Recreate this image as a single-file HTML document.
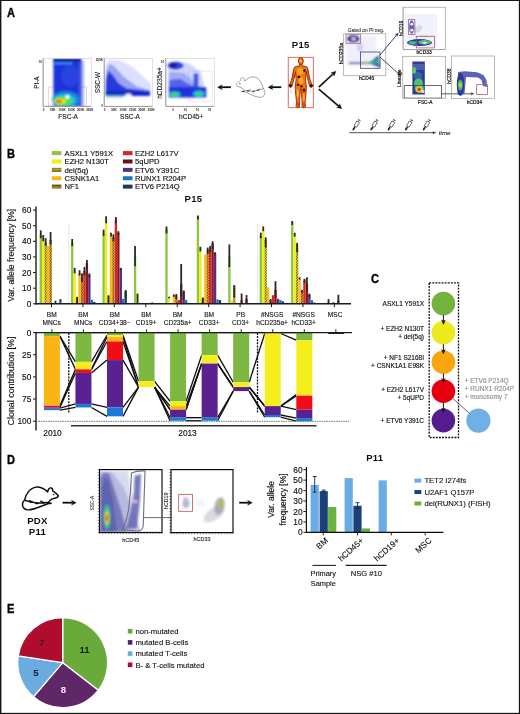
<!DOCTYPE html>
<html lang="en">
<head>
<meta charset="utf-8">
<title>Figure: P15 and P11 clonal analysis</title>
<style>
html,body{margin:0;padding:0;background:#fff;}
body{width:520px;height:714px;overflow:hidden;}
svg{display:block;font-family:"Liberation Sans",sans-serif;}
</style>
</head>
<body>
<svg width="520" height="714" viewBox="0 0 520 714">
<defs>
<filter id="b08" x="-20%" y="-20%" width="140%" height="140%"><feGaussianBlur stdDeviation="0.8"/></filter>
<filter id="b05" x="-20%" y="-20%" width="140%" height="140%"><feGaussianBlur stdDeviation="0.5"/></filter>
<filter id="b12" x="-20%" y="-20%" width="140%" height="140%"><feGaussianBlur stdDeviation="1.2"/></filter>
<filter id="soft" x="0" y="0" width="520" height="714" filterUnits="userSpaceOnUse"><feGaussianBlur stdDeviation="0.4"/></filter>
<pattern id="hy" width="1.3" height="1.3" patternUnits="userSpaceOnUse" patternTransform="rotate(35)"><rect width="1.3" height="1.3" fill="#ece31c"/><rect y="0.8" width="1.3" height="0.5" fill="#3a3408"/></pattern>
<pattern id="ho" width="1.3" height="1.3" patternUnits="userSpaceOnUse" patternTransform="rotate(35)"><rect width="1.3" height="1.3" fill="#f6a81a"/><rect y="0.8" width="1.3" height="0.5" fill="#3a2408"/></pattern>
<pattern id="hyl" width="2.4" height="1.2" patternUnits="userSpaceOnUse"><rect width="2.4" height="1.2" fill="#a8a428"/><rect y="0.6" width="2.4" height="0.6" fill="#4a4a16"/></pattern>
<pattern id="hol" width="2.4" height="1.2" patternUnits="userSpaceOnUse"><rect width="2.4" height="1.2" fill="#9c8c24"/><rect y="0.6" width="2.4" height="0.6" fill="#46400f"/></pattern>
<clipPath id="fc1"><rect x="43.1" y="58.4" width="48.1" height="48"/></clipPath>
<clipPath id="fc2"><rect x="104.2" y="58.4" width="48.3" height="48"/></clipPath>
<clipPath id="fc3"><rect x="165.8" y="58.4" width="48.4" height="48"/></clipPath>
<clipPath id="fc4"><rect x="343.7" y="33.8" width="42.1" height="41.9"/></clipPath>
<clipPath id="fc5"><rect x="403.1" y="7.2" width="42.3" height="42.4"/></clipPath>
<clipPath id="fc6"><rect x="402.8" y="56.3" width="42.6" height="42.1"/></clipPath>
<clipPath id="fc7"><rect x="451.5" y="56" width="43" height="42.3"/></clipPath>
<clipPath id="fc8"><rect x="99.5" y="469.6" width="62.5" height="62.9"/></clipPath>
<clipPath id="fc9"><rect x="171" y="469.6" width="62" height="63"/></clipPath>
</defs>
<rect x="0" y="0" width="520" height="714" fill="#fff"/>
<g id="fig" filter="url(#soft)">
<text transform="translate(7 16.9) scale(0.9 1)" font-size="12.3" font-weight="bold" fill="#000" stroke="#000" stroke-width="0.35">A</text>
<rect x="48.2" y="87" width="38.3" height="19" fill="none" stroke="#dcaad8" stroke-width="0.6" />
<g clip-path="url(#fc1)"><g filter="url(#b08)">
<rect x="53.4" y="58.4" width="27.8" height="48" fill="#1c30da" />
<rect x="78" y="61" width="6" height="45" fill="#5060e8" opacity="0.5"/>
<rect x="53.4" y="58.4" width="27.8" height="3.6" fill="#1220a8" />
<rect x="54.5" y="62.7" width="18" height="1.1" fill="#48d0f8" />
<ellipse cx="70" cy="76" rx="9" ry="11" fill="#3a5cea" opacity="0.45"/>
<ellipse cx="66" cy="99.5" rx="14" ry="8.5" fill="#1a8ae8" opacity="0.9"/>
<ellipse cx="64.5" cy="100.5" rx="11.5" ry="6.2" fill="#20ccc8" opacity="0.95"/>
<ellipse cx="62.5" cy="101" rx="9" ry="4.6" fill="#5adc3c" opacity="1"/>
<ellipse cx="60.2" cy="101.2" rx="5.6" ry="2.5" fill="#f6e814" opacity="1"/>
<ellipse cx="59" cy="101.3" rx="3.4" ry="1.2" fill="#ea2216" opacity="1"/>
<ellipse cx="67.4" cy="97.1" rx="2.3" ry="2" fill="#ffffff" opacity="0.95"/>
</g></g>
<rect x="43.1" y="58.4" width="48.1" height="48" fill="none" stroke="#c4c4c4" stroke-width="0.5" />
<path d="M43.1 58.4L43.1 106.4L91.2 106.4" fill="none" stroke="#777" stroke-width="0.7" />
<text x="39" y="82.6" font-size="6.3" text-anchor="middle" fill="#222" transform="rotate(-90 39 82.6)" stroke="#222" stroke-width="0.15" >PI-A</text>
<text x="68.1" y="118.9" font-size="6.6" text-anchor="middle" fill="#222" stroke="#222" stroke-width="0.15" >FSC-A</text>
<text x="43.5" y="111.3" font-size="3" text-anchor="middle" fill="#222" font-weight="bold" >0</text>
<text x="52.75" y="111.3" font-size="3" text-anchor="middle" fill="#222" font-weight="bold" >50K</text>
<text x="62" y="111.3" font-size="3" text-anchor="middle" fill="#222" font-weight="bold" >100K</text>
<text x="71.25" y="111.3" font-size="3" text-anchor="middle" fill="#222" font-weight="bold" >150K</text>
<text x="80.5" y="111.3" font-size="3" text-anchor="middle" fill="#222" font-weight="bold" >200K</text>
<text x="89.75" y="111.3" font-size="3" text-anchor="middle" fill="#222" font-weight="bold" >250K</text>
<text x="41.8" y="62.8" font-size="3" text-anchor="end" fill="#222" font-weight="bold" >10</text>
<g clip-path="url(#fc2)"><g filter="url(#b08)">
<path d="M105.5 96 L105.5 64 L109 59.5 L120 60 L134 68 L151 84 L151 96Z" fill="#98a2f6" opacity="0.33"/>
<path d="M105.8 96 L106 72 L109 64 L114 66 L124 77 L136 86 L150 90.5 L150 96Z" fill="#5868ee" opacity="0.5"/>
<path d="M105.8 96 L106 80 L108.5 71 L112.5 75 L118 83 L126 88.5 L150 91.5 L150 96Z" fill="#1e30d8" opacity="0.92"/>
<rect x="105.8" y="91" width="44" height="4.6" fill="#1626cc" />
<rect x="106" y="95.2" width="18" height="1.4" fill="#30c0d0" opacity="0.95"/>
<rect x="106" y="96.7" width="17" height="0.9" fill="#a8b8b0" opacity="0.8"/>
<ellipse cx="128.3" cy="95.3" rx="3.2" ry="1.7" fill="#ffffff" opacity="0.95"/>
</g></g>
<rect x="104.2" y="58.4" width="48.3" height="48" fill="none" stroke="#c4c4c4" stroke-width="0.5" />
<path d="M104.2 58.4L104.2 106.4L152.5 106.4" fill="none" stroke="#777" stroke-width="0.7" />
<text x="100.2" y="82.5" font-size="6.4" text-anchor="middle" fill="#222" transform="rotate(-90 100.2 82.5)" stroke="#222" stroke-width="0.15" >SSC-W</text>
<text x="130" y="118.9" font-size="6.5" text-anchor="middle" fill="#222" stroke="#222" stroke-width="0.15" >SSC-A</text>
<text x="104.6" y="111.3" font-size="3" text-anchor="middle" fill="#222" font-weight="bold" >0</text>
<text x="113.9" y="111.3" font-size="3" text-anchor="middle" fill="#222" font-weight="bold" >50K</text>
<text x="123.2" y="111.3" font-size="3" text-anchor="middle" fill="#222" font-weight="bold" >100K</text>
<text x="132.5" y="111.3" font-size="3" text-anchor="middle" fill="#222" font-weight="bold" >150K</text>
<text x="141.8" y="111.3" font-size="3" text-anchor="middle" fill="#222" font-weight="bold" >200K</text>
<text x="151.1" y="111.3" font-size="3" text-anchor="middle" fill="#222" font-weight="bold" >250K</text>
<text x="102.8" y="60.8" font-size="3" text-anchor="end" fill="#222" font-weight="bold" >250K</text>
<text x="102.8" y="107.3" font-size="3" text-anchor="end" fill="#222" font-weight="bold" >0</text>
<rect x="188.6" y="71" width="23.6" height="30.2" fill="none" stroke="#f0d4ec" stroke-width="0.6" />
<g clip-path="url(#fc3)"><g filter="url(#b08)">
<path d="M168 98 L168 62 L188 63 L201 72 L207 98Z" fill="#8c98f4" opacity="0.42"/>
<path d="M169 98 L169.5 72 L184 73 L192 80 L204 98Z" fill="#5a6af0" opacity="0.4"/>
<path d="M169 92 L169.5 80 L180 79 L190 85 L205 88 L205 92Z" fill="#3044e0" opacity="0.7"/>
<ellipse cx="175.5" cy="65.6" rx="8" ry="3.8" fill="#2a3cdc" opacity="0.95"/>
<ellipse cx="173.3" cy="65.4" rx="3.6" ry="2.3" fill="#141e9c" opacity="1"/>
<rect x="169" y="87.2" width="37.2" height="10" fill="#1c30da" opacity="0.97"/>
<rect x="193.8" y="73.5" width="4.4" height="16" fill="#3042e0" opacity="0.9"/>
<ellipse cx="174.7" cy="94.3" rx="5.8" ry="3.1" fill="#1fb7e0" opacity="1"/>
<ellipse cx="174.5" cy="94.5" rx="3.5" ry="1.9" fill="#4cd648" opacity="1"/>
<ellipse cx="198.8" cy="93.8" rx="6" ry="3.2" fill="#1fb7e0" opacity="1"/>
<ellipse cx="199" cy="93.9" rx="3.6" ry="1.9" fill="#3cd488" opacity="1"/>
</g></g>
<rect x="165.8" y="58.4" width="48.4" height="48" fill="none" stroke="#c4c4c4" stroke-width="0.5" />
<path d="M165.8 58.4L165.8 106.4L214.2 106.4" fill="none" stroke="#777" stroke-width="0.7" />
<text x="162" y="83" font-size="6.6" text-anchor="middle" fill="#222" transform="rotate(-90 162 83)" stroke="#222" stroke-width="0.15" >hCD235a+</text>
<text x="191.2" y="118.9" font-size="6.6" text-anchor="middle" fill="#222" stroke="#222" stroke-width="0.15" >hCD45+</text>
<text x="173" y="110.8" font-size="3" text-anchor="middle" fill="#222" font-weight="bold" >0</text>
<text x="185.2" y="110.8" font-size="3" text-anchor="middle" fill="#222" font-weight="bold" >10</text>
<text x="197.4" y="110.8" font-size="3" text-anchor="middle" fill="#222" font-weight="bold" >10</text>
<text x="209.6" y="110.8" font-size="3" text-anchor="middle" fill="#222" font-weight="bold" >10</text>
<text x="164.2" y="63" font-size="3" text-anchor="end" fill="#222" font-weight="bold" >10</text>
<line x1="230.9" y1="87.2" x2="221.24" y2="87.2" stroke="#111" stroke-width="1.8" />
<path d="M217.5 87.2L222.3 84.7L221.24 87.2L222.3 89.7Z" fill="#111" stroke="#111" stroke-width="0.3" stroke-linejoin="round"/>
<line x1="281.3" y1="87.2" x2="271.74" y2="87.2" stroke="#111" stroke-width="1.8" />
<path d="M268 87.2L272.8 84.7L271.74 87.2L272.8 89.7Z" fill="#111" stroke="#111" stroke-width="0.3" stroke-linejoin="round"/>
<g transform="translate(265.4 76.5) scale(-0.08 0.09) translate(-72.0 -70.0)" fill="none" stroke="#9a9a9a" stroke-width="10.74" stroke-linejoin="round" stroke-linecap="round">
<path d="M100 203 C70 225 65 285 120 300 C170 312 250 270 335 238" />
<path d="M100 205 C108 150 150 82 215 74 C262 70 300 95 330 122 C332 100 345 80 362 82 C376 84 380 98 380 112 C400 125 425 145 436 160 C436 172 420 180 398 186 C380 190 362 198 350 208 L340 226 C300 230 250 236 215 232 C170 225 130 215 100 205Z" fill="#fff"/>
<g fill="#555" stroke="#555" stroke-width="6.44"><ellipse cx="168" cy="221" rx="9" ry="5"/><ellipse cx="220" cy="236" rx="15" ry="6"/><ellipse cx="292" cy="229" rx="11" ry="5"/><ellipse cx="350" cy="236" rx="17" ry="6"/><circle cx="389" cy="150" r="3"/></g>
<path d="M150 208 L162 226 M262 214 L285 232" stroke="#555"/>
</g>
<text x="300.7" y="48.3" font-size="9.5" text-anchor="middle" fill="#111" font-weight="bold" letter-spacing="0.3" >P15</text>
<rect x="288.3" y="57.4" width="25.1" height="50.2" fill="#fff" stroke="#e07a6e" stroke-width="1.1" />
<g transform="translate(300.8 57.6) scale(0.5)">
<g fill="#f2760e" stroke="#9a2c08" stroke-width="1.9" stroke-linejoin="round">
<polygon points="-2.2,12.5 -2.4,16.5 -8,17.5 -12.5,19 -14.2,23 -15.5,30 -17,38 -19,46 -21.5,52 -23,56 -21.5,59.5 -18.5,59 -17,55 -15.5,49 -13.5,42 -11.8,34 -10.8,28 -10.3,34 -9.3,43 -10,50 -11.2,57 -11,64 -10.2,74 -9,84 -8.6,92 -9.5,97.5 -8,99.5 -3,99.5 -2.6,96 -2.4,86 -1.6,74 -0.8,62.5 0,61 0.8,62.5 1.6,74 2.4,86 2.6,96 3,99.5 8,99.5 9.5,97.5 8.6,92 9,84 10.2,74 11,64 11.2,57 10,50 9.3,43 10.3,34 10.8,28 11.8,34 13.5,42 15.5,49 17,55 18.5,59 21.5,59.5 23,56 21.5,52 19,46 17,38 15.5,30 14.2,23 12.5,19 8,17.5 2.4,16.5 2.2,12.5"/>
<ellipse cx="0" cy="6.8" rx="5" ry="6.6"/>
</g>
<g fill="#fcb232" opacity="0.9"><ellipse cx="-1.5" cy="28" rx="6" ry="6.5"/><ellipse cx="0.5" cy="46" rx="4.5" ry="7"/><ellipse cx="-6" cy="72" rx="2.2" ry="9"/><ellipse cx="6" cy="80" rx="2" ry="8"/><ellipse cx="0" cy="6.5" rx="2.6" ry="3.6"/></g>
<g fill="#d83a0a" opacity="0.75"><ellipse cx="-15" cy="36" rx="1.6" ry="9" transform="rotate(8 -15 36)"/><ellipse cx="15" cy="36" rx="1.6" ry="9" transform="rotate(-8 15 36)"/><ellipse cx="-6" cy="94" rx="2.6" ry="4.5"/><ellipse cx="6" cy="94" rx="2.6" ry="4.5"/><ellipse cx="6.5" cy="66" rx="3" ry="5"/></g>
<g fill="#36140a"><ellipse cx="7.3" cy="26" rx="2.7" ry="2.7"/><ellipse cx="-3.7" cy="39" rx="3" ry="2.5"/><ellipse cx="-5.5" cy="54.5" rx="3" ry="2.4"/><ellipse cx="1.2" cy="57.5" rx="2.6" ry="2.4"/><ellipse cx="6.4" cy="64.6" rx="2.8" ry="3"/><ellipse cx="-21" cy="56" rx="3.3" ry="3.3"/><ellipse cx="21" cy="56" rx="3.3" ry="3.3"/></g>
<g fill="#bfe8ea" opacity="0.75"><ellipse cx="-19.5" cy="68" rx="1.6" ry="5" transform="rotate(-15 -19.5 68)"/><ellipse cx="19.5" cy="68" rx="1.6" ry="5" transform="rotate(15 19.5 68)"/></g>
</g>
<line x1="318.8" y1="87.1" x2="333.25" y2="73.74" stroke="#111" stroke-width="1.6" />
<path d="M336 71.2L334.1 76.22L333.25 73.74L330.85 72.7Z" fill="#111" stroke="#111" stroke-width="0.3" stroke-linejoin="round"/>
<line x1="318.8" y1="89.2" x2="338.94" y2="106.28" stroke="#111" stroke-width="1.6" />
<path d="M341.8 108.7L336.59 107.43L338.94 106.28L339.69 103.77Z" fill="#111" stroke="#111" stroke-width="0.3" stroke-linejoin="round"/>
<g clip-path="url(#fc4)"><g filter="url(#b08)">
<rect x="346" y="36" width="30" height="30" fill="#c9cdf3" opacity="0.3"/>
<ellipse cx="353.3" cy="38.8" rx="6.3" ry="3.7" fill="#34349a" opacity="1"/>
<ellipse cx="353.6" cy="38.8" rx="2.4" ry="1.3" fill="#f4f0fc" opacity="1"/>
<ellipse cx="360" cy="47" rx="3" ry="5" fill="#b0b0dc" opacity="0.5"/>
<rect x="349" y="62.4" width="30" height="1.4" fill="#2c3698" />
<path d="M370 62.5 L378.5 55 L380 67.5 L372 64.5Z" fill="#2e3ca8" />
<ellipse cx="374" cy="62.2" rx="4.5" ry="1.6" fill="#30b088" opacity="1"/>
<ellipse cx="377" cy="61.5" rx="1.6" ry="3" fill="#30b088" opacity="1"/>
<ellipse cx="366" cy="62.5" rx="3" ry="0.9" fill="#a8c048" opacity="1"/>
</g><g>
<rect x="346" y="34.3" width="14.5" height="9" fill="none" stroke="#b46a70" stroke-width="0.8" />
<rect x="360.5" y="52" width="19.5" height="16.3" fill="none" stroke="#3a4668" stroke-width="0.8" />
</g></g>
<rect x="343.7" y="33.8" width="42.1" height="41.9" fill="none" stroke="#9c9c9c" stroke-width="0.7" />
<text x="366" y="32.2" font-size="4.8" text-anchor="middle" fill="#333" stroke="#333" stroke-width="0.1" >Gated on PI neg.</text>
<text x="342.7" y="53.6" font-size="5" text-anchor="middle" fill="#111" transform="rotate(-90 342.7 53.6)" stroke="#111" stroke-width="0.2" >hCD235a</text>
<text x="366.5" y="80.3" font-size="4.9" text-anchor="middle" fill="#111" stroke="#111" stroke-width="0.2" >hCD45</text>
<line x1="380" y1="55" x2="396.7" y2="34.92" stroke="#2b3057" stroke-width="0.9" />
<path d="M398.3 33L397.33 36.36L396.7 34.92L395.18 34.56Z" fill="#2b3057" stroke="#2b3057" stroke-width="0.3" stroke-linejoin="round"/>
<line x1="380" y1="57" x2="398.65" y2="73.83" stroke="#2b3057" stroke-width="0.9" />
<path d="M400.5 75.5L397.19 74.4L398.65 73.83L399.06 72.32Z" fill="#2b3057" stroke="#2b3057" stroke-width="0.3" stroke-linejoin="round"/>
<g clip-path="url(#fc5)"><g filter="url(#b05)">
<rect x="405" y="14" width="32" height="33" fill="#c9cdf3" opacity="0.25"/>
<ellipse cx="411.7" cy="27" rx="2.6" ry="6.8" fill="#5a58b4" opacity="0.95"/>
<ellipse cx="411.8" cy="24.2" rx="1.5" ry="1.4" fill="#f0e8fa" opacity="1"/>
<ellipse cx="411.8" cy="30.2" rx="1.5" ry="1.4" fill="#f0e8fa" opacity="1"/>
<ellipse cx="418" cy="29" rx="5" ry="3" fill="#b0b0d8" opacity="0.4" transform="rotate(-35 418 29)"/>
<ellipse cx="419.5" cy="42.6" rx="12.5" ry="3.5" fill="#2c3aa8" opacity="1"/>
<ellipse cx="412.5" cy="42.8" rx="4" ry="1.9" fill="#48b878" opacity="1"/>
<ellipse cx="424.5" cy="42.3" rx="6.5" ry="2.2" fill="#4cc080" opacity="1"/>
<ellipse cx="424.6" cy="42.8" rx="2.4" ry="1.1" fill="#f6d8ec" opacity="1"/>
<ellipse cx="424" cy="36" rx="4" ry="1.5" fill="#e6d490" opacity="0.5"/>
</g><g>
<rect x="408.6" y="19.6" width="6.3" height="15" fill="none" stroke="#a85a70" stroke-width="0.8" />
<rect x="416.3" y="36.3" width="18.2" height="11.6" fill="none" stroke="#a85a70" stroke-width="0.8" />
</g></g>
<rect x="403.1" y="7.2" width="42.3" height="42.4" fill="none" stroke="#9c9c9c" stroke-width="0.7" />
<path d="M403.1 7.2L403.1 49.6L445.4 49.6" fill="none" stroke="#999" stroke-width="0.6" />
<text x="403" y="28.3" font-size="4.9" text-anchor="middle" fill="#111" transform="rotate(-90 403 28.3)" stroke="#111" stroke-width="0.2" >hCD19</text>
<text x="424" y="54.2" font-size="4.9" text-anchor="middle" fill="#111" stroke="#111" stroke-width="0.2" >hCD33</text>
<g clip-path="url(#fc6)"><g filter="url(#b05)">
<rect x="412.4" y="61.5" width="12.4" height="33" fill="#2c3c98" />
<rect x="413" y="64" width="11" height="6" fill="#5a7ab8" opacity="0.6"/>
<ellipse cx="414.2" cy="70.5" rx="2" ry="3.6" fill="#68c070" opacity="1"/>
<ellipse cx="418" cy="76" rx="4" ry="4" fill="#4a70b0" opacity="0.7"/>
<ellipse cx="418.5" cy="83" rx="4.5" ry="4.5" fill="#4cc078" opacity="1"/>
<ellipse cx="419.3" cy="88.5" rx="4.6" ry="4.6" fill="#5cc860" opacity="1"/>
<ellipse cx="419.3" cy="89.3" rx="3" ry="3" fill="#f0d828" opacity="1"/>
<ellipse cx="419.2" cy="89.3" rx="1.7" ry="1.9" fill="#e8321c" opacity="1"/>
<ellipse cx="422.8" cy="91.6" rx="1.7" ry="1.5" fill="#f8d8ee" opacity="1"/>
</g><g>
<rect x="404.2" y="85.6" width="37.4" height="12.5" fill="none" stroke="#444" stroke-width="0.8" />
</g></g>
<rect x="402.8" y="56.3" width="42.6" height="42.1" fill="none" stroke="#9c9c9c" stroke-width="0.7" />
<text x="400.7" y="78.3" font-size="4.9" text-anchor="middle" fill="#111" transform="rotate(-90 400.7 78.3)" stroke="#111" stroke-width="0.2" >Lineage</text>
<text x="425.2" y="103.9" font-size="4.8" text-anchor="middle" fill="#111" stroke="#111" stroke-width="0.2" >FSC-A</text>
<line x1="441.6" y1="93.8" x2="471.66" y2="93.8" stroke="#333" stroke-width="0.8" />
<path d="M474 93.8L471 95.1L471.66 93.8L471 92.5Z" fill="#333" stroke="#333" stroke-width="0.3" stroke-linejoin="round"/>
<g clip-path="url(#fc7)"><g filter="url(#b05)">
<path d="M458 72 L465 71.3 L477 72.3 L483.5 75 L486.5 80 L487 87 L483 86 L481.5 80 L478 77.5 L466 77 L464.5 94 L457.5 95Z" fill="#4a52ac" opacity="0.9"/>
<ellipse cx="460.5" cy="84.5" rx="3.7" ry="11.5" fill="#2a3896" opacity="1"/>
<ellipse cx="460.3" cy="85" rx="2.5" ry="5.5" fill="#40b088" opacity="1"/>
<ellipse cx="460.3" cy="85" rx="1.5" ry="2.8" fill="#c8cc38" opacity="1"/>
</g><g>
<rect x="476.7" y="84.7" width="10.8" height="9.8" fill="none" stroke="#a85a70" stroke-width="0.8" />
</g></g>
<rect x="451.5" y="56" width="43" height="42.3" fill="none" stroke="#9c9c9c" stroke-width="0.7" />
<text x="451.5" y="76.2" font-size="4.9" text-anchor="middle" fill="#111" transform="rotate(-90 451.5 76.2)" stroke="#111" stroke-width="0.2" >hCD38</text>
<text x="474.4" y="103.7" font-size="4.9" text-anchor="middle" fill="#111" stroke="#111" stroke-width="0.2" >hCD34</text>
<line x1="349.2" y1="132.7" x2="433.5" y2="132.7" stroke="#444" stroke-width="0.9" />
<path d="M436.3 132.7 L432.8 131.3 L432.8 134.1Z" fill="#333" />
<text x="438.8" y="134.8" font-size="6.2" text-anchor="start" fill="#222" font-style="italic" stroke="#222" stroke-width="0.12" >time</text>
<g transform="translate(352.9 130.2) rotate(-58)" stroke="#3a3a3a" fill="#fff" stroke-width="0.7">
<path d="M0 0 L4.4 0" stroke-width="1.3" stroke="#222"/>
<path d="M-0.4 0 L2.4 -1.3 L2.4 1.3Z" fill="#222" stroke="none"/>
<rect x="4.4" y="-1.5" width="5.6" height="3"/>
<line x1="10" y1="0" x2="12" y2="0"/>
<line x1="12" y1="-1.6" x2="12" y2="1.6"/>
</g>
<g transform="translate(370.8 130.2) rotate(-58)" stroke="#3a3a3a" fill="#fff" stroke-width="0.7">
<path d="M0 0 L4.4 0" stroke-width="1.3" stroke="#222"/>
<path d="M-0.4 0 L2.4 -1.3 L2.4 1.3Z" fill="#222" stroke="none"/>
<rect x="4.4" y="-1.5" width="5.6" height="3"/>
<line x1="10" y1="0" x2="12" y2="0"/>
<line x1="12" y1="-1.6" x2="12" y2="1.6"/>
</g>
<g transform="translate(388.1 130.2) rotate(-58)" stroke="#3a3a3a" fill="#fff" stroke-width="0.7">
<path d="M0 0 L4.4 0" stroke-width="1.3" stroke="#222"/>
<path d="M-0.4 0 L2.4 -1.3 L2.4 1.3Z" fill="#222" stroke="none"/>
<rect x="4.4" y="-1.5" width="5.6" height="3"/>
<line x1="10" y1="0" x2="12" y2="0"/>
<line x1="12" y1="-1.6" x2="12" y2="1.6"/>
</g>
<g transform="translate(405.4 130.2) rotate(-58)" stroke="#3a3a3a" fill="#fff" stroke-width="0.7">
<path d="M0 0 L4.4 0" stroke-width="1.3" stroke="#222"/>
<path d="M-0.4 0 L2.4 -1.3 L2.4 1.3Z" fill="#222" stroke="none"/>
<rect x="4.4" y="-1.5" width="5.6" height="3"/>
<line x1="10" y1="0" x2="12" y2="0"/>
<line x1="12" y1="-1.6" x2="12" y2="1.6"/>
</g>
<g transform="translate(423.2 130.2) rotate(-58)" stroke="#3a3a3a" fill="#fff" stroke-width="0.7">
<path d="M0 0 L4.4 0" stroke-width="1.3" stroke="#222"/>
<path d="M-0.4 0 L2.4 -1.3 L2.4 1.3Z" fill="#222" stroke="none"/>
<rect x="4.4" y="-1.5" width="5.6" height="3"/>
<line x1="10" y1="0" x2="12" y2="0"/>
<line x1="12" y1="-1.6" x2="12" y2="1.6"/>
</g>
<text transform="translate(6.9 157.7) scale(0.9 1)" font-size="12.3" font-weight="bold" fill="#000" stroke="#000" stroke-width="0.35">B</text>
<rect x="51.8" y="151.1" width="9.6" height="4" fill="#8cc63f" />
<text x="64.6" y="155.8" font-size="7.6" text-anchor="start" fill="#111" stroke="#111" stroke-width="0.15" >ASXL1 Y591X</text>
<rect x="51.8" y="159.48" width="9.6" height="4" fill="#f3ec19" />
<text x="64.6" y="164.18" font-size="7.6" text-anchor="start" fill="#111" stroke="#111" stroke-width="0.15" >EZH2 N130T</text>
<rect x="51.8" y="167.86" width="9.6" height="4" fill="url(#hyl)" />
<text x="64.6" y="172.56" font-size="7.6" text-anchor="start" fill="#111" stroke="#111" stroke-width="0.15" >del(5q)</text>
<rect x="51.8" y="176.24" width="9.6" height="4" fill="#fbb817" />
<text x="64.6" y="180.94" font-size="7.6" text-anchor="start" fill="#111" stroke="#111" stroke-width="0.15" >CSNK1A1</text>
<rect x="51.8" y="184.62" width="9.6" height="4" fill="url(#hol)" />
<text x="64.6" y="189.32" font-size="7.6" text-anchor="start" fill="#111" stroke="#111" stroke-width="0.15" >NF1</text>
<rect x="122.9" y="151.1" width="9.6" height="4" fill="#dc2024" />
<text x="135" y="155.8" font-size="7.6" text-anchor="start" fill="#111" stroke="#111" stroke-width="0.15" >EZH2 L617V</text>
<rect x="122.9" y="159.48" width="9.6" height="4" fill="#6a1012" />
<text x="135" y="164.18" font-size="7.6" text-anchor="start" fill="#111" stroke="#111" stroke-width="0.15" >5qUPD</text>
<rect x="122.9" y="167.86" width="9.6" height="4" fill="#5b2a8c" />
<text x="135" y="172.56" font-size="7.6" text-anchor="start" fill="#111" stroke="#111" stroke-width="0.15" >ETV6 Y391C</text>
<rect x="122.9" y="176.24" width="9.6" height="4" fill="#1c75bc" />
<text x="135" y="180.94" font-size="7.6" text-anchor="start" fill="#111" stroke="#111" stroke-width="0.15" >RUNX1 R204P</text>
<rect x="122.9" y="184.62" width="9.6" height="4" fill="#1b3b5f" />
<text x="135" y="189.32" font-size="7.6" text-anchor="start" fill="#111" stroke="#111" stroke-width="0.15" >ETV6 P214Q</text>
<text x="193.5" y="202.4" font-size="9.5" text-anchor="middle" fill="#111" font-weight="bold" letter-spacing="0.3" >P15</text>
<line x1="68.8" y1="224" x2="68.8" y2="303" stroke="#cfcfcf" stroke-width="0.5" />
<line x1="257.5" y1="224" x2="257.5" y2="303" stroke="#cfcfcf" stroke-width="0.5" />
<rect x="39.6" y="235.05" width="2.35" height="68.75" fill="#8cc63f" />
<line x1="40.77" y1="230.36" x2="40.77" y2="238.18" stroke="#2a2a2a" stroke-width="1.8" />
<rect x="42.05" y="238.18" width="2.35" height="65.62" fill="#f3ec19" />
<line x1="43.23" y1="235.05" x2="43.23" y2="241.3" stroke="#2a2a2a" stroke-width="1.8" />
<rect x="44.5" y="242.86" width="2.35" height="60.94" fill="url(#hy)" />
<line x1="45.67" y1="238.18" x2="45.67" y2="245.99" stroke="#2a2a2a" stroke-width="1.8" />
<rect x="46.95" y="245.99" width="2.35" height="57.81" fill="#fbb817" />
<rect x="49.4" y="239.74" width="2.35" height="64.06" fill="url(#ho)" />
<line x1="50.57" y1="231.93" x2="50.57" y2="244.43" stroke="#2a2a2a" stroke-width="1.8" />
<rect x="54.3" y="303.33" width="2.35" height="0.47" fill="#8a1518" />
<line x1="55.48" y1="300.68" x2="55.48" y2="303.8" stroke="#2a2a2a" stroke-width="1.8" />
<rect x="56.75" y="303.18" width="2.35" height="0.62" fill="#5b2a8c" />
<rect x="59.2" y="300.36" width="2.35" height="3.44" fill="#1c75bc" />
<line x1="60.38" y1="299.11" x2="60.38" y2="301.46" stroke="#2a2a2a" stroke-width="1.8" />
<rect x="61.65" y="303.18" width="2.35" height="0.62" fill="#1b3b5f" />
<rect x="71.03" y="242.86" width="2.35" height="60.94" fill="#8cc63f" />
<line x1="72.2" y1="238.96" x2="72.2" y2="245.99" stroke="#2a2a2a" stroke-width="1.8" />
<rect x="73.48" y="270.99" width="2.35" height="32.81" fill="#f3ec19" />
<line x1="74.66" y1="267.86" x2="74.66" y2="273.33" stroke="#2a2a2a" stroke-width="1.8" />
<rect x="75.93" y="297.55" width="2.35" height="6.25" fill="url(#hy)" />
<line x1="77.11" y1="296.77" x2="77.11" y2="303.8" stroke="#2a2a2a" stroke-width="1.8" />
<rect x="78.38" y="273.33" width="2.35" height="30.47" fill="#fbb817" />
<line x1="79.55" y1="270.21" x2="79.55" y2="275.68" stroke="#2a2a2a" stroke-width="1.8" />
<rect x="80.83" y="277.24" width="2.35" height="26.56" fill="url(#ho)" />
<line x1="82" y1="273.33" x2="82" y2="281.93" stroke="#2a2a2a" stroke-width="1.8" />
<rect x="83.28" y="270.99" width="2.35" height="32.81" fill="#dc2024" />
<line x1="84.45" y1="267.08" x2="84.45" y2="275.68" stroke="#2a2a2a" stroke-width="1.8" />
<rect x="85.73" y="263.18" width="2.35" height="40.62" fill="#8a1518" />
<line x1="86.91" y1="260.05" x2="86.91" y2="269.43" stroke="#2a2a2a" stroke-width="1.8" />
<rect x="88.18" y="274.89" width="2.35" height="28.91" fill="#5b2a8c" />
<line x1="89.36" y1="273.33" x2="89.36" y2="277.24" stroke="#2a2a2a" stroke-width="1.8" />
<rect x="90.63" y="299.74" width="2.35" height="4.06" fill="#1c75bc" />
<rect x="93.08" y="301.93" width="2.35" height="1.88" fill="#1b3b5f" />
<rect x="102.46" y="232.71" width="2.35" height="71.09" fill="#8cc63f" />
<line x1="103.63" y1="229.58" x2="103.63" y2="235.83" stroke="#2a2a2a" stroke-width="1.8" />
<rect x="104.91" y="219.43" width="2.35" height="84.38" fill="#f3ec19" />
<line x1="106.08" y1="216.3" x2="106.08" y2="223.33" stroke="#2a2a2a" stroke-width="1.8" />
<rect x="107.36" y="295.99" width="2.35" height="7.81" fill="url(#hy)" />
<line x1="108.53" y1="295.21" x2="108.53" y2="303.8" stroke="#2a2a2a" stroke-width="1.8" />
<rect x="109.81" y="235.05" width="2.35" height="68.75" fill="#fbb817" />
<line x1="110.98" y1="232.71" x2="110.98" y2="236.61" stroke="#2a2a2a" stroke-width="1.8" />
<rect x="112.26" y="237.39" width="2.35" height="66.41" fill="url(#ho)" />
<line x1="113.43" y1="234.27" x2="113.43" y2="241.3" stroke="#2a2a2a" stroke-width="1.8" />
<rect x="114.71" y="219.43" width="2.35" height="84.38" fill="#dc2024" />
<line x1="115.88" y1="217.08" x2="115.88" y2="223.33" stroke="#2a2a2a" stroke-width="1.8" />
<rect x="117.16" y="232.71" width="2.35" height="71.09" fill="#8a1518" />
<line x1="118.33" y1="231.14" x2="118.33" y2="235.05" stroke="#2a2a2a" stroke-width="1.8" />
<rect x="119.61" y="268.64" width="2.35" height="35.16" fill="#5b2a8c" />
<line x1="120.78" y1="267.86" x2="120.78" y2="270.21" stroke="#2a2a2a" stroke-width="1.8" />
<rect x="122.06" y="298.8" width="2.35" height="5" fill="#1c75bc" />
<rect x="124.51" y="291.3" width="2.35" height="12.5" fill="#1b3b5f" />
<line x1="125.68" y1="290.05" x2="125.68" y2="297.55" stroke="#2a2a2a" stroke-width="1.8" />
<rect x="133.89" y="256.93" width="2.35" height="46.88" fill="#8cc63f" />
<line x1="135.06" y1="245.99" x2="135.06" y2="266.3" stroke="#2a2a2a" stroke-width="1.8" />
<rect x="136.34" y="293.64" width="2.35" height="10.16" fill="#f3ec19" />
<line x1="137.51" y1="293.64" x2="137.51" y2="303.8" stroke="#2a2a2a" stroke-width="1.8" />
<rect x="148.59" y="303.33" width="2.35" height="0.47" fill="#8a1518" />
<rect x="151.04" y="302.86" width="2.35" height="0.94" fill="#5b2a8c" />
<line x1="152.22" y1="302.55" x2="152.22" y2="303.8" stroke="#2a2a2a" stroke-width="1.8" />
<rect x="165.32" y="228.8" width="2.35" height="75" fill="#8cc63f" />
<line x1="166.5" y1="226.46" x2="166.5" y2="233.49" stroke="#2a2a2a" stroke-width="1.8" />
<rect x="167.77" y="297.24" width="2.35" height="6.56" fill="#f3ec19" />
<line x1="168.94" y1="296.77" x2="168.94" y2="298.33" stroke="#2a2a2a" stroke-width="1.8" />
<rect x="172.67" y="295.21" width="2.35" height="8.59" fill="#fbb817" />
<line x1="173.84" y1="294.43" x2="173.84" y2="296.77" stroke="#2a2a2a" stroke-width="1.8" />
<rect x="175.12" y="295.68" width="2.35" height="8.12" fill="url(#ho)" />
<line x1="176.3" y1="293.96" x2="176.3" y2="299.11" stroke="#2a2a2a" stroke-width="1.8" />
<rect x="177.57" y="299.89" width="2.35" height="3.91" fill="#dc2024" />
<rect x="180.02" y="284.27" width="2.35" height="19.53" fill="#8a1518" />
<line x1="181.19" y1="263.96" x2="181.19" y2="295.99" stroke="#2a2a2a" stroke-width="1.8" />
<rect x="182.47" y="291.3" width="2.35" height="12.5" fill="#5b2a8c" />
<line x1="183.65" y1="290.52" x2="183.65" y2="299.89" stroke="#2a2a2a" stroke-width="1.8" />
<rect x="184.92" y="299.89" width="2.35" height="3.91" fill="#1c75bc" />
<rect x="187.37" y="302.86" width="2.35" height="0.94" fill="#1b3b5f" />
<rect x="196.75" y="216.3" width="2.35" height="87.5" fill="#8cc63f" />
<line x1="197.93" y1="215.52" x2="197.93" y2="219.43" stroke="#2a2a2a" stroke-width="1.8" />
<rect x="199.2" y="247.55" width="2.35" height="56.25" fill="#f3ec19" />
<line x1="200.38" y1="246.77" x2="200.38" y2="251.46" stroke="#2a2a2a" stroke-width="1.8" />
<rect x="201.65" y="297.86" width="2.35" height="5.94" fill="url(#hy)" />
<line x1="202.83" y1="297.55" x2="202.83" y2="303.8" stroke="#2a2a2a" stroke-width="1.8" />
<rect x="204.1" y="254.58" width="2.35" height="49.22" fill="#fbb817" />
<rect x="206.55" y="249.89" width="2.35" height="53.91" fill="url(#ho)" />
<line x1="207.73" y1="247.55" x2="207.73" y2="253.8" stroke="#2a2a2a" stroke-width="1.8" />
<rect x="209" y="249.11" width="2.35" height="54.69" fill="#dc2024" />
<line x1="210.18" y1="245.99" x2="210.18" y2="252.24" stroke="#2a2a2a" stroke-width="1.8" />
<rect x="211.45" y="243.64" width="2.35" height="60.16" fill="#8a1518" />
<line x1="212.62" y1="241.3" x2="212.62" y2="249.11" stroke="#2a2a2a" stroke-width="1.8" />
<rect x="213.9" y="253.02" width="2.35" height="50.78" fill="#5b2a8c" />
<line x1="215.08" y1="252.24" x2="215.08" y2="255.36" stroke="#2a2a2a" stroke-width="1.8" />
<rect x="216.35" y="299.43" width="2.35" height="4.38" fill="#1c75bc" />
<rect x="218.8" y="300.05" width="2.35" height="3.75" fill="#1b3b5f" />
<rect x="228.18" y="256.14" width="2.35" height="47.66" fill="#8cc63f" />
<line x1="229.35" y1="244.43" x2="229.35" y2="267.08" stroke="#2a2a2a" stroke-width="1.8" />
<rect x="230.63" y="300.05" width="2.35" height="3.75" fill="#f3ec19" />
<rect x="233.08" y="285.83" width="2.35" height="17.97" fill="url(#hy)" />
<line x1="234.25" y1="285.05" x2="234.25" y2="297.55" stroke="#2a2a2a" stroke-width="1.8" />
<rect x="240.43" y="300.05" width="2.35" height="3.75" fill="#dc2024" />
<line x1="241.6" y1="293.49" x2="241.6" y2="303.8" stroke="#2a2a2a" stroke-width="1.8" />
<rect x="245.33" y="299.11" width="2.35" height="4.69" fill="#5b2a8c" />
<line x1="246.5" y1="295.05" x2="246.5" y2="303.8" stroke="#2a2a2a" stroke-width="1.8" />
<rect x="259.61" y="235.83" width="2.35" height="67.97" fill="#8cc63f" />
<line x1="260.79" y1="232.71" x2="260.79" y2="238.18" stroke="#2a2a2a" stroke-width="1.8" />
<rect x="262.06" y="228.8" width="2.35" height="75" fill="#f3ec19" />
<line x1="263.24" y1="226.46" x2="263.24" y2="231.14" stroke="#2a2a2a" stroke-width="1.8" />
<rect x="264.51" y="239.74" width="2.35" height="64.06" fill="url(#hy)" />
<line x1="265.69" y1="237.39" x2="265.69" y2="247.55" stroke="#2a2a2a" stroke-width="1.8" />
<rect x="266.96" y="287.39" width="2.35" height="16.41" fill="#fbb817" />
<rect x="269.41" y="299.89" width="2.35" height="3.91" fill="url(#ho)" />
<line x1="270.59" y1="299.11" x2="270.59" y2="303.8" stroke="#2a2a2a" stroke-width="1.8" />
<rect x="271.86" y="295.21" width="2.35" height="8.59" fill="#dc2024" />
<rect x="274.31" y="289.74" width="2.35" height="14.06" fill="#8a1518" />
<line x1="275.49" y1="281.14" x2="275.49" y2="297.55" stroke="#2a2a2a" stroke-width="1.8" />
<rect x="276.76" y="298.8" width="2.35" height="5" fill="#5b2a8c" />
<rect x="279.21" y="300.05" width="2.35" height="3.75" fill="#1c75bc" />
<rect x="281.66" y="301.3" width="2.35" height="2.5" fill="#1b3b5f" />
<rect x="291.04" y="222.55" width="2.35" height="81.25" fill="#8cc63f" />
<line x1="292.22" y1="220.99" x2="292.22" y2="224.89" stroke="#2a2a2a" stroke-width="1.8" />
<rect x="293.49" y="233.49" width="2.35" height="70.31" fill="#f3ec19" />
<line x1="294.67" y1="232.71" x2="294.67" y2="236.61" stroke="#2a2a2a" stroke-width="1.8" />
<rect x="295.94" y="244.43" width="2.35" height="59.38" fill="url(#hy)" />
<line x1="297.12" y1="242.86" x2="297.12" y2="252.24" stroke="#2a2a2a" stroke-width="1.8" />
<rect x="298.39" y="278.8" width="2.35" height="25" fill="#fbb817" />
<line x1="299.57" y1="277.24" x2="299.57" y2="279.58" stroke="#2a2a2a" stroke-width="1.8" />
<rect x="300.84" y="290.52" width="2.35" height="13.28" fill="url(#ho)" />
<line x1="302.02" y1="289.74" x2="302.02" y2="292.86" stroke="#2a2a2a" stroke-width="1.8" />
<rect x="303.29" y="280.36" width="2.35" height="23.44" fill="#dc2024" />
<line x1="304.47" y1="278.8" x2="304.47" y2="282.71" stroke="#2a2a2a" stroke-width="1.8" />
<rect x="305.74" y="283.49" width="2.35" height="20.31" fill="#8a1518" />
<line x1="306.92" y1="277.24" x2="306.92" y2="291.3" stroke="#2a2a2a" stroke-width="1.8" />
<rect x="308.19" y="294.74" width="2.35" height="9.06" fill="#5b2a8c" />
<line x1="309.37" y1="293.64" x2="309.37" y2="297.55" stroke="#2a2a2a" stroke-width="1.8" />
<rect x="310.64" y="300.05" width="2.35" height="3.75" fill="#1c75bc" />
<rect x="313.09" y="302.55" width="2.35" height="1.25" fill="#1b3b5f" />
<rect x="327.37" y="301.93" width="2.35" height="1.88" fill="url(#hy)" />
<line x1="328.55" y1="299.11" x2="328.55" y2="303.02" stroke="#2a2a2a" stroke-width="1.8" />
<rect x="332.27" y="303.02" width="2.35" height="0.78" fill="url(#ho)" />
<line x1="333.45" y1="302.24" x2="333.45" y2="303.8" stroke="#2a2a2a" stroke-width="1.8" />
<rect x="337.17" y="300.68" width="2.35" height="3.12" fill="#8a1518" />
<line x1="338.35" y1="294.74" x2="338.35" y2="303.02" stroke="#2a2a2a" stroke-width="1.8" />
<line x1="36" y1="206.5" x2="36" y2="304.5" stroke="#1a1a1a" stroke-width="1.4" />
<line x1="35.3" y1="303.8" x2="351" y2="303.8" stroke="#1a1a1a" stroke-width="1.4" />
<line x1="33" y1="303.8" x2="36" y2="303.8" stroke="#1a1a1a" stroke-width="1" />
<text x="31.3" y="306.8" font-size="8.3" text-anchor="end" fill="#111" stroke="#111" stroke-width="0.15" >0</text>
<line x1="33" y1="288.18" x2="36" y2="288.18" stroke="#1a1a1a" stroke-width="1" />
<text x="31.3" y="291.18" font-size="8.3" text-anchor="end" fill="#111" stroke="#111" stroke-width="0.15" >10</text>
<line x1="33" y1="272.55" x2="36" y2="272.55" stroke="#1a1a1a" stroke-width="1" />
<text x="31.3" y="275.55" font-size="8.3" text-anchor="end" fill="#111" stroke="#111" stroke-width="0.15" >20</text>
<line x1="33" y1="256.93" x2="36" y2="256.93" stroke="#1a1a1a" stroke-width="1" />
<text x="31.3" y="259.93" font-size="8.3" text-anchor="end" fill="#111" stroke="#111" stroke-width="0.15" >30</text>
<line x1="33" y1="241.3" x2="36" y2="241.3" stroke="#1a1a1a" stroke-width="1" />
<text x="31.3" y="244.3" font-size="8.3" text-anchor="end" fill="#111" stroke="#111" stroke-width="0.15" >40</text>
<line x1="33" y1="225.68" x2="36" y2="225.68" stroke="#1a1a1a" stroke-width="1" />
<text x="31.3" y="228.68" font-size="8.3" text-anchor="end" fill="#111" stroke="#111" stroke-width="0.15" >50</text>
<line x1="33" y1="210.05" x2="36" y2="210.05" stroke="#1a1a1a" stroke-width="1" />
<text x="31.3" y="213.05" font-size="8.3" text-anchor="end" fill="#111" stroke="#111" stroke-width="0.15" >60</text>
<text x="14.2" y="255.3" font-size="8.7" text-anchor="middle" fill="#111" transform="rotate(-90 14.2 255.3)" stroke="#111" stroke-width="0.15" >Var. allele frequency [%]</text>
<line x1="51.5" y1="303.8" x2="51.5" y2="307.1" stroke="#1a1a1a" stroke-width="1" />
<text x="51.7" y="317.3" font-size="6.6" text-anchor="middle" fill="#111" stroke="#111" stroke-width="0.12" >BM</text>
<text x="51.7" y="325.2" font-size="6.6" text-anchor="middle" fill="#111" stroke="#111" stroke-width="0.12" >MNCs</text>
<line x1="82.93" y1="303.8" x2="82.93" y2="307.1" stroke="#1a1a1a" stroke-width="1" />
<text x="83.19" y="317.3" font-size="6.6" text-anchor="middle" fill="#111" stroke="#111" stroke-width="0.12" >BM</text>
<text x="83.19" y="325.2" font-size="6.6" text-anchor="middle" fill="#111" stroke="#111" stroke-width="0.12" >MNCs</text>
<line x1="114.36" y1="303.8" x2="114.36" y2="307.1" stroke="#1a1a1a" stroke-width="1" />
<text x="114.68" y="317.3" font-size="6.6" text-anchor="middle" fill="#111" stroke="#111" stroke-width="0.12" >BM</text>
<text x="114.68" y="325.2" font-size="6.6" text-anchor="middle" fill="#111" stroke="#111" stroke-width="0.12" >CD34+38−</text>
<line x1="145.79" y1="303.8" x2="145.79" y2="307.1" stroke="#1a1a1a" stroke-width="1" />
<text x="146.17" y="317.3" font-size="6.6" text-anchor="middle" fill="#111" stroke="#111" stroke-width="0.12" >BM</text>
<text x="146.17" y="325.2" font-size="6.6" text-anchor="middle" fill="#111" stroke="#111" stroke-width="0.12" >CD19+</text>
<line x1="177.22" y1="303.8" x2="177.22" y2="307.1" stroke="#1a1a1a" stroke-width="1" />
<text x="177.66" y="317.3" font-size="6.6" text-anchor="middle" fill="#111" stroke="#111" stroke-width="0.12" >BM</text>
<text x="177.66" y="325.2" font-size="6.6" text-anchor="middle" fill="#111" stroke="#111" stroke-width="0.12" >CD235a+</text>
<line x1="208.65" y1="303.8" x2="208.65" y2="307.1" stroke="#1a1a1a" stroke-width="1" />
<text x="209.15" y="317.3" font-size="6.6" text-anchor="middle" fill="#111" stroke="#111" stroke-width="0.12" >BM</text>
<text x="209.15" y="325.2" font-size="6.6" text-anchor="middle" fill="#111" stroke="#111" stroke-width="0.12" >CD33+</text>
<line x1="240.08" y1="303.8" x2="240.08" y2="307.1" stroke="#1a1a1a" stroke-width="1" />
<text x="240.64" y="317.3" font-size="6.6" text-anchor="middle" fill="#111" stroke="#111" stroke-width="0.12" >PB</text>
<text x="240.64" y="325.2" font-size="6.6" text-anchor="middle" fill="#111" stroke="#111" stroke-width="0.12" >CD3+</text>
<line x1="271.51" y1="303.8" x2="271.51" y2="307.1" stroke="#1a1a1a" stroke-width="1" />
<text x="272.13" y="317.3" font-size="6.6" text-anchor="middle" fill="#111" stroke="#111" stroke-width="0.12" >#NSGS</text>
<text x="272.13" y="325.2" font-size="6.6" text-anchor="middle" fill="#111" stroke="#111" stroke-width="0.12" >hCD235a+</text>
<line x1="302.94" y1="303.8" x2="302.94" y2="307.1" stroke="#1a1a1a" stroke-width="1" />
<text x="303.62" y="317.3" font-size="6.6" text-anchor="middle" fill="#111" stroke="#111" stroke-width="0.12" >#NSGS</text>
<text x="303.62" y="325.2" font-size="6.6" text-anchor="middle" fill="#111" stroke="#111" stroke-width="0.12" >hCD33+</text>
<line x1="334.37" y1="303.8" x2="334.37" y2="307.1" stroke="#1a1a1a" stroke-width="1" />
<text x="335.11" y="317.3" font-size="6.6" text-anchor="middle" fill="#111" stroke="#111" stroke-width="0.12" >MSC</text>
<line x1="59.9" y1="332.6" x2="75.45" y2="332.6" stroke="#111" stroke-width="1.3" />
<line x1="59.9" y1="336.14" x2="75.45" y2="361.84" stroke="#111" stroke-width="1.3" />
<line x1="59.9" y1="336.14" x2="75.45" y2="369.37" stroke="#111" stroke-width="1.3" />
<line x1="59.9" y1="405.7" x2="75.45" y2="369.37" stroke="#111" stroke-width="1.3" />
<line x1="59.9" y1="407.47" x2="75.45" y2="372.91" stroke="#111" stroke-width="1.3" />
<line x1="59.9" y1="408.09" x2="75.45" y2="403.92" stroke="#111" stroke-width="1.3" />
<line x1="59.9" y1="410.12" x2="75.45" y2="407.47" stroke="#111" stroke-width="1.3" />
<line x1="91.45" y1="332.6" x2="107" y2="332.6" stroke="#111" stroke-width="1.3" />
<line x1="91.45" y1="361.84" x2="107" y2="335.26" stroke="#111" stroke-width="1.3" />
<line x1="91.45" y1="369.37" x2="107" y2="337.03" stroke="#111" stroke-width="1.3" />
<line x1="91.45" y1="369.37" x2="107" y2="341.46" stroke="#111" stroke-width="1.3" />
<line x1="91.45" y1="372.91" x2="107" y2="360.07" stroke="#111" stroke-width="1.3" />
<line x1="91.45" y1="403.92" x2="107" y2="407.47" stroke="#111" stroke-width="1.3" />
<line x1="91.45" y1="407.47" x2="107" y2="416.33" stroke="#111" stroke-width="1.3" />
<line x1="123" y1="332.6" x2="138.55" y2="332.6" stroke="#111" stroke-width="1.3" />
<line x1="123" y1="335.26" x2="138.55" y2="381.33" stroke="#111" stroke-width="1.3" />
<line x1="123" y1="337.03" x2="138.55" y2="387.09" stroke="#111" stroke-width="1.3" />
<line x1="123" y1="341.46" x2="138.55" y2="387.09" stroke="#111" stroke-width="1.3" />
<line x1="123" y1="360.07" x2="138.55" y2="387.09" stroke="#111" stroke-width="1.3" />
<line x1="123" y1="407.47" x2="138.55" y2="387.09" stroke="#111" stroke-width="1.3" />
<line x1="123" y1="416.33" x2="138.55" y2="387.09" stroke="#111" stroke-width="1.3" />
<line x1="154.55" y1="332.6" x2="170.1" y2="332.6" stroke="#111" stroke-width="1.3" />
<line x1="154.55" y1="381.33" x2="170.1" y2="401.27" stroke="#111" stroke-width="1.3" />
<line x1="154.55" y1="387.09" x2="170.1" y2="406.14" stroke="#111" stroke-width="1.3" />
<line x1="154.55" y1="387.09" x2="170.1" y2="409.68" stroke="#111" stroke-width="1.3" />
<line x1="154.55" y1="387.09" x2="170.1" y2="409.68" stroke="#111" stroke-width="1.3" />
<line x1="154.55" y1="387.09" x2="170.1" y2="417.66" stroke="#111" stroke-width="1.3" />
<line x1="154.55" y1="387.09" x2="170.1" y2="420.76" stroke="#111" stroke-width="1.3" />
<line x1="186.1" y1="332.6" x2="201.65" y2="332.6" stroke="#111" stroke-width="1.3" />
<line x1="186.1" y1="401.27" x2="201.65" y2="355.19" stroke="#111" stroke-width="1.3" />
<line x1="186.1" y1="406.14" x2="201.65" y2="363.61" stroke="#111" stroke-width="1.3" />
<line x1="186.1" y1="409.68" x2="201.65" y2="363.61" stroke="#111" stroke-width="1.3" />
<line x1="186.1" y1="409.68" x2="201.65" y2="363.61" stroke="#111" stroke-width="1.3" />
<line x1="186.1" y1="417.66" x2="201.65" y2="417.66" stroke="#111" stroke-width="1.3" />
<line x1="186.1" y1="420.76" x2="201.65" y2="420.76" stroke="#111" stroke-width="1.3" />
<line x1="217.65" y1="332.6" x2="233.2" y2="332.6" stroke="#111" stroke-width="1.3" />
<line x1="217.65" y1="355.19" x2="233.2" y2="382.22" stroke="#111" stroke-width="1.3" />
<line x1="217.65" y1="363.61" x2="233.2" y2="387.09" stroke="#111" stroke-width="1.3" />
<line x1="217.65" y1="363.61" x2="233.2" y2="387.09" stroke="#111" stroke-width="1.3" />
<line x1="217.65" y1="363.61" x2="233.2" y2="387.09" stroke="#111" stroke-width="1.3" />
<line x1="217.65" y1="417.66" x2="233.2" y2="391.08" stroke="#111" stroke-width="1.3" />
<line x1="217.65" y1="420.76" x2="233.2" y2="391.08" stroke="#111" stroke-width="1.3" />
<line x1="249.2" y1="332.6" x2="264.75" y2="332.6" stroke="#111" stroke-width="1.3" />
<line x1="249.2" y1="382.22" x2="264.75" y2="333.49" stroke="#111" stroke-width="1.3" />
<line x1="249.2" y1="387.09" x2="264.75" y2="406.14" stroke="#111" stroke-width="1.3" />
<line x1="249.2" y1="387.09" x2="264.75" y2="406.14" stroke="#111" stroke-width="1.3" />
<line x1="249.2" y1="387.09" x2="264.75" y2="406.14" stroke="#111" stroke-width="1.3" />
<line x1="249.2" y1="391.08" x2="264.75" y2="415" stroke="#111" stroke-width="1.3" />
<line x1="249.2" y1="391.08" x2="264.75" y2="417.21" stroke="#111" stroke-width="1.3" />
<line x1="280.75" y1="332.6" x2="296.3" y2="332.6" stroke="#111" stroke-width="1.3" />
<line x1="280.75" y1="333.49" x2="296.3" y2="340.13" stroke="#111" stroke-width="1.3" />
<line x1="280.75" y1="406.14" x2="296.3" y2="394.62" stroke="#111" stroke-width="1.3" />
<line x1="280.75" y1="406.14" x2="296.3" y2="395.95" stroke="#111" stroke-width="1.3" />
<line x1="280.75" y1="406.14" x2="296.3" y2="409.68" stroke="#111" stroke-width="1.3" />
<line x1="280.75" y1="415" x2="296.3" y2="418.1" stroke="#111" stroke-width="1.3" />
<line x1="280.75" y1="417.21" x2="296.3" y2="421.2" stroke="#111" stroke-width="1.3" />
<rect x="43.9" y="332.6" width="16" height="3.54" fill="#7bb843" />
<rect x="43.9" y="336.14" width="16" height="69.55" fill="#fbb415" />
<rect x="43.9" y="405.7" width="16" height="1.77" fill="#f01016" />
<rect x="43.9" y="407.47" width="16" height="0.62" fill="#5a2390" />
<rect x="43.9" y="408.09" width="16" height="2.04" fill="#1f78d6" />
<rect x="75.45" y="332.6" width="16" height="29.24" fill="#7bb843" />
<rect x="75.45" y="361.84" width="16" height="7.53" fill="#f5ee1c" />
<rect x="75.45" y="369.37" width="16" height="3.54" fill="#f01016" />
<rect x="75.45" y="372.91" width="16" height="31.01" fill="#5a2390" />
<rect x="75.45" y="403.92" width="16" height="3.54" fill="#1f78d6" />
<rect x="107" y="332.6" width="16" height="2.66" fill="#7bb843" />
<rect x="107" y="335.26" width="16" height="1.77" fill="#f5ee1c" />
<rect x="107" y="337.03" width="16" height="4.43" fill="#fbb415" />
<rect x="107" y="341.46" width="16" height="18.61" fill="#f01016" />
<rect x="107" y="360.07" width="16" height="47.4" fill="#5a2390" />
<rect x="107" y="407.47" width="16" height="8.86" fill="#1f78d6" />
<rect x="138.55" y="332.6" width="16" height="48.73" fill="#7bb843" />
<rect x="138.55" y="381.33" width="16" height="5.76" fill="#f5ee1c" />
<rect x="170.1" y="332.6" width="16" height="68.67" fill="#7bb843" />
<rect x="170.1" y="401.27" width="16" height="4.87" fill="#f5ee1c" />
<rect x="170.1" y="406.14" width="16" height="3.54" fill="#fbb415" />
<rect x="170.1" y="409.68" width="16" height="7.97" fill="#5a2390" />
<rect x="170.1" y="417.66" width="16" height="3.1" fill="#1f78d6" />
<rect x="201.65" y="332.6" width="16" height="22.59" fill="#7bb843" />
<rect x="201.65" y="355.19" width="16" height="8.42" fill="#f5ee1c" />
<rect x="201.65" y="363.61" width="16" height="54.05" fill="#5a2390" />
<rect x="201.65" y="417.66" width="16" height="3.1" fill="#1f78d6" />
<rect x="233.2" y="332.6" width="16" height="49.62" fill="#7bb843" />
<rect x="233.2" y="382.22" width="16" height="4.87" fill="#f5ee1c" />
<rect x="233.2" y="387.09" width="16" height="3.99" fill="#5a2390" />
<rect x="264.75" y="332.6" width="16" height="0.89" fill="#7bb843" />
<rect x="264.75" y="333.49" width="16" height="72.65" fill="#f5ee1c" />
<rect x="264.75" y="406.14" width="16" height="8.86" fill="#5a2390" />
<rect x="264.75" y="415" width="16" height="2.21" fill="#1f78d6" />
<rect x="296.3" y="332.6" width="16" height="7.53" fill="#7bb843" />
<rect x="296.3" y="340.13" width="16" height="54.49" fill="#f5ee1c" />
<rect x="296.3" y="394.62" width="16" height="1.33" fill="#fbb415" />
<rect x="296.3" y="395.95" width="16" height="13.73" fill="#f01016" />
<rect x="296.3" y="409.68" width="16" height="8.42" fill="#5a2390" />
<rect x="296.3" y="418.1" width="16" height="3.1" fill="#1f78d6" />
<rect x="328.2" y="332.1" width="16" height="1.8" fill="#111" />
<line x1="68.8" y1="333" x2="68.8" y2="412.5" stroke="#111" stroke-width="1.3" stroke-dasharray="2 1.1"/>
<line x1="257.5" y1="333" x2="257.5" y2="412.5" stroke="#111" stroke-width="1.3" stroke-dasharray="2 1.1"/>
<line x1="36" y1="332" x2="36" y2="430.5" stroke="#1a1a1a" stroke-width="1.4" />
<line x1="35.3" y1="332.6" x2="352" y2="332.6" stroke="#1a1a1a" stroke-width="1.3" />
<line x1="51.9" y1="329.3" x2="51.9" y2="332.6" stroke="#1a1a1a" stroke-width="1" />
<line x1="83.45" y1="329.3" x2="83.45" y2="332.6" stroke="#1a1a1a" stroke-width="1" />
<line x1="115" y1="329.3" x2="115" y2="332.6" stroke="#1a1a1a" stroke-width="1" />
<line x1="146.55" y1="329.3" x2="146.55" y2="332.6" stroke="#1a1a1a" stroke-width="1" />
<line x1="178.1" y1="329.3" x2="178.1" y2="332.6" stroke="#1a1a1a" stroke-width="1" />
<line x1="209.65" y1="329.3" x2="209.65" y2="332.6" stroke="#1a1a1a" stroke-width="1" />
<line x1="241.2" y1="329.3" x2="241.2" y2="332.6" stroke="#1a1a1a" stroke-width="1" />
<line x1="272.75" y1="329.3" x2="272.75" y2="332.6" stroke="#1a1a1a" stroke-width="1" />
<line x1="304.3" y1="329.3" x2="304.3" y2="332.6" stroke="#1a1a1a" stroke-width="1" />
<line x1="335.85" y1="329.3" x2="335.85" y2="332.6" stroke="#1a1a1a" stroke-width="1" />
<line x1="33" y1="332.6" x2="36" y2="332.6" stroke="#1a1a1a" stroke-width="1" />
<text x="31.3" y="335.6" font-size="8.3" text-anchor="end" fill="#111" stroke="#111" stroke-width="0.15" >0</text>
<line x1="33" y1="354.75" x2="36" y2="354.75" stroke="#1a1a1a" stroke-width="1" />
<text x="31.3" y="357.75" font-size="8.3" text-anchor="end" fill="#111" stroke="#111" stroke-width="0.15" >25</text>
<line x1="33" y1="376.9" x2="36" y2="376.9" stroke="#1a1a1a" stroke-width="1" />
<text x="31.3" y="379.9" font-size="8.3" text-anchor="end" fill="#111" stroke="#111" stroke-width="0.15" >50</text>
<line x1="33" y1="399.05" x2="36" y2="399.05" stroke="#1a1a1a" stroke-width="1" />
<text x="31.3" y="402.05" font-size="8.3" text-anchor="end" fill="#111" stroke="#111" stroke-width="0.15" >75</text>
<line x1="33" y1="421.2" x2="36" y2="421.2" stroke="#1a1a1a" stroke-width="1" />
<text x="31.3" y="424.2" font-size="8.3" text-anchor="end" fill="#111" stroke="#111" stroke-width="0.15" >100</text>
<line x1="36" y1="421.3" x2="349" y2="421.3" stroke="#666" stroke-width="0.9" stroke-dasharray="1.6 0.8"/>
<text x="14.4" y="381" font-size="8.9" text-anchor="middle" fill="#111" transform="rotate(-90 14.4 381)" stroke="#111" stroke-width="0.15" >Clonal contribution [%]</text>
<text x="52.5" y="435.6" font-size="8.3" text-anchor="middle" fill="#111" stroke="#111" stroke-width="0.15" >2010</text>
<line x1="71" y1="425.8" x2="316.5" y2="425.8" stroke="#333" stroke-width="1.5" />
<text x="187.5" y="435.6" font-size="8.3" text-anchor="middle" fill="#111" stroke="#111" stroke-width="0.15" >2013</text>
<text transform="translate(370.9 282.5) scale(0.9 1)" font-size="12.3" font-weight="bold" fill="#000" stroke="#000" stroke-width="0.35">C</text>
<rect x="429.2" y="282.9" width="29.3" height="154.6" fill="none" stroke="#111" stroke-width="1.3" stroke-dasharray="1.9 1.2"/>
<circle cx="443.4" cy="303.6" r="11.8" fill="#74b23e" />
<circle cx="443.4" cy="332.7" r="11.8" fill="#ecea1c" />
<circle cx="443.4" cy="362.2" r="11.8" fill="#f8a60e" />
<circle cx="443.4" cy="391.2" r="11.8" fill="#e6040c" />
<circle cx="443.4" cy="420.6" r="11.8" fill="#541c92" />
<line x1="443.4" y1="315.1" x2="443.4" y2="321.07" stroke="#111" stroke-width="1" />
<path d="M443.4 324.5L441.45 320.1L443.4 321.07L445.35 320.1Z" fill="#111" stroke="#111" stroke-width="0.3" stroke-linejoin="round"/>
<line x1="443.4" y1="344.2" x2="443.4" y2="350.57" stroke="#111" stroke-width="1" />
<path d="M443.4 354L441.45 349.6L443.4 350.57L445.35 349.6Z" fill="#111" stroke="#111" stroke-width="0.3" stroke-linejoin="round"/>
<line x1="443.4" y1="373.7" x2="443.4" y2="379.57" stroke="#111" stroke-width="1" />
<path d="M443.4 383L441.45 378.6L443.4 379.57L445.35 378.6Z" fill="#111" stroke="#111" stroke-width="0.3" stroke-linejoin="round"/>
<line x1="443.4" y1="402.7" x2="443.4" y2="408.97" stroke="#111" stroke-width="1" />
<path d="M443.4 412.4L441.45 408L443.4 408.97L445.35 408Z" fill="#111" stroke="#111" stroke-width="0.3" stroke-linejoin="round"/>
<line x1="453" y1="398.6" x2="469.8" y2="413.6" stroke="#5a5068" stroke-width="0.9" />
<circle cx="478.4" cy="420.6" r="12.1" fill="#6fb0e6" />
<text x="424" y="306" font-size="6.5" text-anchor="end" fill="#111" stroke="#111" stroke-width="0.15" >ASXL1 Y591X</text>
<text x="424" y="331.3" font-size="6.5" text-anchor="end" fill="#111" stroke="#111" stroke-width="0.15" >+ EZH2 N130T</text>
<text x="424" y="339.3" font-size="6.5" text-anchor="end" fill="#111" stroke="#111" stroke-width="0.15" >+ del(5q)</text>
<text x="424" y="360" font-size="6.5" text-anchor="end" fill="#111" stroke="#111" stroke-width="0.15" >+ NF1 S2168I</text>
<text x="424" y="368.3" font-size="6.5" text-anchor="end" fill="#111" stroke="#111" stroke-width="0.15" >+ CSNK1A1 E98K</text>
<text x="424" y="391.7" font-size="6.5" text-anchor="end" fill="#111" stroke="#111" stroke-width="0.15" >+ EZH2 L617V</text>
<text x="424" y="399.5" font-size="6.5" text-anchor="end" fill="#111" stroke="#111" stroke-width="0.15" >+ 5qUPD</text>
<text x="424" y="423.2" font-size="6.5" text-anchor="end" fill="#111" stroke="#111" stroke-width="0.15" >+ ETV6 Y391C</text>
<text x="464.7" y="383" font-size="6.5" text-anchor="start" fill="#929292" stroke="#929292" stroke-width="0.15" >+ ETV6 P214Q</text>
<text x="464.7" y="390.8" font-size="6.5" text-anchor="start" fill="#929292" stroke="#929292" stroke-width="0.15" >+ RUNX1 R204P</text>
<text x="464.7" y="398.5" font-size="6.5" text-anchor="start" fill="#929292" stroke="#929292" stroke-width="0.15" >+ monosomy 7</text>
<text transform="translate(6.9 463.5) scale(0.9 1)" font-size="12.3" font-weight="bold" fill="#000" stroke="#000" stroke-width="0.35">D</text>
<g transform="translate(21.9 486.7) scale(0.1 0.1) translate(-72.0 -70.0)" fill="none" stroke="#111" stroke-width="14.56" stroke-linejoin="round" stroke-linecap="round">
<path d="M100 203 C70 225 65 285 120 300 C170 312 250 270 335 238" />
<path d="M100 205 C108 150 150 82 215 74 C262 70 300 95 330 122 C332 100 345 80 362 82 C376 84 380 98 380 112 C400 125 425 145 436 160 C436 172 420 180 398 186 C380 190 362 198 350 208 L340 226 C300 230 250 236 215 232 C170 225 130 215 100 205Z" fill="#fff"/>
<g fill="#111" stroke="#111" stroke-width="8.73"><ellipse cx="168" cy="221" rx="9" ry="5"/><ellipse cx="220" cy="236" rx="15" ry="6"/><ellipse cx="292" cy="229" rx="11" ry="5"/><ellipse cx="350" cy="236" rx="17" ry="6"/><circle cx="389" cy="150" r="3"/></g>
<path d="M150 208 L162 226 M262 214 L285 232" stroke="#111"/>
</g>
<text x="37.5" y="523.8" font-size="9.6" text-anchor="middle" fill="#111" font-weight="bold" letter-spacing="0.3" >PDX</text>
<text x="37.5" y="535.4" font-size="9.6" text-anchor="middle" fill="#111" font-weight="bold" letter-spacing="0.3" >P11</text>
<line x1="62.5" y1="502.7" x2="72.56" y2="502.7" stroke="#111" stroke-width="1.8" />
<path d="M76.3 502.7L71.5 505.2L72.56 502.7L71.5 500.2Z" fill="#111" stroke="#111" stroke-width="0.3" stroke-linejoin="round"/>
<g clip-path="url(#fc8)"><g filter="url(#b08)">
<path d="M100 532 L100 471 L128 471 L131 490 L136 532Z" fill="#b4b8e0" opacity="0.5"/>
<path d="M100 532 L100 472 L112 472 L124 488 L134 512 L141 532Z" fill="#a0a4d4" opacity="0.6"/>
<path d="M100 532 L100 478 L103.5 472.5 L109 473 L114 488 L121 510 L127 532Z" fill="#6c70b8" opacity="0.85"/>
<path d="M101 532 L101.5 490 L105 477 L109 482 L113 500 L117 532Z" fill="#5a5eac" opacity="0.85"/>
<path d="M134.5 476 L141 474 L140 500 L137 528 L126 529 L131 510 L134 492Z" fill="#6a6eb4" opacity="0.92"/>
<ellipse cx="107" cy="517" rx="3.6" ry="12.5" fill="#38b4c0" opacity="1"/>
<ellipse cx="107" cy="517.5" rx="2.8" ry="9.5" fill="#58c858" opacity="1"/>
<ellipse cx="107" cy="518" rx="2" ry="6.4" fill="#e8dc30" opacity="1"/>
<ellipse cx="107" cy="518" rx="1.3" ry="3.6" fill="#e84218" opacity="1"/>
<ellipse cx="135.3" cy="501.5" rx="2.2" ry="1.6" fill="#f0c0ea" opacity="0.95"/>
</g><g>
<path d="M131.5 473 Q138 470.3 145 471 L143.2 526 Q142.5 531 137 531 L122.5 530 Q127 520 128.5 510 Q131 492 131.5 473Z" fill="none" stroke="#6e6e82" stroke-width="1.1" />
</g></g>
<rect x="99.5" y="469.6" width="62.5" height="62.9" fill="none" stroke="#111" stroke-width="1.2" />
<path d="M97.9 469.6H99.5M99.5 532.5V534.1M97.9 472.6H99.5M102.48 532.5V534.1M97.9 475.59H99.5M105.45 532.5V534.1M97.9 478.59H99.5M108.43 532.5V534.1M97.9 481.58H99.5M111.4 532.5V534.1M97.9 484.58H99.5M114.38 532.5V534.1M97.9 487.57H99.5M117.36 532.5V534.1M97.9 490.57H99.5M120.33 532.5V534.1M97.9 493.56H99.5M123.31 532.5V534.1M97.9 496.56H99.5M126.29 532.5V534.1M97.9 499.55H99.5M129.26 532.5V534.1M97.9 502.55H99.5M132.24 532.5V534.1M97.9 505.54H99.5M135.21 532.5V534.1M97.9 508.54H99.5M138.19 532.5V534.1M97.9 511.53H99.5M141.17 532.5V534.1M97.9 514.53H99.5M144.14 532.5V534.1M97.9 517.52H99.5M147.12 532.5V534.1M97.9 520.52H99.5M150.1 532.5V534.1M97.9 523.51H99.5M153.07 532.5V534.1M97.9 526.51H99.5M156.05 532.5V534.1M97.9 529.5H99.5M159.02 532.5V534.1M97.9 532.5H99.5M162 532.5V534.1" fill="none" stroke="#111" stroke-width="0.5" />
<line x1="143.2" y1="517.6" x2="171" y2="517.6" stroke="#5a5a70" stroke-width="0.9" />
<text x="94.4" y="503.2" font-size="4.8" text-anchor="middle" fill="#333" transform="rotate(-90 94.4 503.2)" stroke="#333" stroke-width="0.1" >SSC-A</text>
<text x="130.8" y="541.8" font-size="5.5" text-anchor="middle" fill="#222" stroke="#222" stroke-width="0.12" >hCD45</text>
<g clip-path="url(#fc9)"><g filter="url(#b08)">
<ellipse cx="214" cy="514" rx="12" ry="6" fill="#b8bcd0" opacity="0.55" transform="rotate(-35 214 514)"/>
<ellipse cx="219.5" cy="506" rx="5" ry="9" fill="#9aa0b4" opacity="0.8" transform="rotate(12 219.5 506)"/>
<ellipse cx="220.7" cy="503.8" rx="2.4" ry="5" fill="#b8bc40" opacity="1" transform="rotate(8 220.7 503.8)"/>
<ellipse cx="186" cy="503.5" rx="3.6" ry="4.5" fill="#9ab0c4" opacity="0.8"/>
<ellipse cx="185.5" cy="498.6" rx="2.6" ry="1.2" fill="#ea8ae0" opacity="0.9"/>
<ellipse cx="200" cy="503" rx="6" ry="3" fill="#d0d4e4" opacity="0.3"/>
</g><g>
<rect x="178.7" y="494.3" width="13.9" height="17" fill="none" stroke="#c0504a" stroke-width="0.8" />
</g></g>
<rect x="171" y="469.6" width="62" height="63" fill="none" stroke="#111" stroke-width="1.2" />
<path d="M169.4 469.6H171M171 532.6V534.2M169.4 472.6H171M173.95 532.6V534.2M169.4 475.6H171M176.9 532.6V534.2M169.4 478.6H171M179.86 532.6V534.2M169.4 481.6H171M182.81 532.6V534.2M169.4 484.6H171M185.76 532.6V534.2M169.4 487.6H171M188.71 532.6V534.2M169.4 490.6H171M191.67 532.6V534.2M169.4 493.6H171M194.62 532.6V534.2M169.4 496.6H171M197.57 532.6V534.2M169.4 499.6H171M200.52 532.6V534.2M169.4 502.6H171M203.48 532.6V534.2M169.4 505.6H171M206.43 532.6V534.2M169.4 508.6H171M209.38 532.6V534.2M169.4 511.6H171M212.33 532.6V534.2M169.4 514.6H171M215.29 532.6V534.2M169.4 517.6H171M218.24 532.6V534.2M169.4 520.6H171M221.19 532.6V534.2M169.4 523.6H171M224.14 532.6V534.2M169.4 526.6H171M227.1 532.6V534.2M169.4 529.6H171M230.05 532.6V534.2M169.4 532.6H171M233 532.6V534.2" fill="none" stroke="#111" stroke-width="0.5" />
<text x="167.6" y="500.8" font-size="5.2" text-anchor="middle" fill="#222" transform="rotate(-90 167.6 500.8)" stroke="#222" stroke-width="0.12" >hCD19</text>
<text x="202" y="541.2" font-size="5.4" text-anchor="middle" fill="#222" stroke="#222" stroke-width="0.12" >hCD33</text>
<line x1="239.2" y1="502.7" x2="248.66" y2="502.7" stroke="#111" stroke-width="1.8" />
<path d="M252.4 502.7L247.6 505.2L248.66 502.7L247.6 500.2Z" fill="#111" stroke="#111" stroke-width="0.3" stroke-linejoin="round"/>
<text x="374.8" y="461.2" font-size="9.5" text-anchor="middle" fill="#111" font-weight="bold" letter-spacing="0.2" >P11</text>
<rect x="310.6" y="484.85" width="8.2" height="47.55" fill="#6aade4" />
<line x1="314.7" y1="476.49" x2="314.7" y2="492.17" stroke="#1b2a4a" stroke-width="0.9" />
<line x1="312.7" y1="476.49" x2="316.7" y2="476.49" stroke="#1b2a4a" stroke-width="0.9" />
<line x1="312.7" y1="492.17" x2="316.7" y2="492.17" stroke="#1b2a4a" stroke-width="0.9" />
<rect x="319.6" y="491.12" width="8.2" height="41.28" fill="#1f3f7a" />
<line x1="323.7" y1="490.08" x2="323.7" y2="492.17" stroke="#1b2a4a" stroke-width="0.9" />
<line x1="321.7" y1="490.08" x2="325.7" y2="490.08" stroke="#1b2a4a" stroke-width="0.9" />
<line x1="321.7" y1="492.17" x2="325.7" y2="492.17" stroke="#1b2a4a" stroke-width="0.9" />
<rect x="328.1" y="507.01" width="8.2" height="25.39" fill="#6ab23c" />
<rect x="344.6" y="478.06" width="8.2" height="54.34" fill="#6aade4" />
<rect x="353.4" y="505.75" width="8.2" height="26.65" fill="#1f3f7a" />
<line x1="357.5" y1="502.62" x2="357.5" y2="508.37" stroke="#1b2a4a" stroke-width="0.9" />
<line x1="355.5" y1="502.62" x2="359.5" y2="502.62" stroke="#1b2a4a" stroke-width="0.9" />
<line x1="355.5" y1="508.37" x2="359.5" y2="508.37" stroke="#1b2a4a" stroke-width="0.9" />
<rect x="361.8" y="528.43" width="8.2" height="3.97" fill="#6ab23c" />
<rect x="378.6" y="480.36" width="8.2" height="52.04" fill="#6aade4" />
<line x1="306.4" y1="467" x2="306.4" y2="533" stroke="#111" stroke-width="1.2" />
<line x1="305.8" y1="532.4" x2="443.3" y2="532.4" stroke="#111" stroke-width="1.2" />
<line x1="303.4" y1="532.4" x2="306.4" y2="532.4" stroke="#111" stroke-width="0.9" />
<text x="302.6" y="535.4" font-size="8.3" text-anchor="end" fill="#111" stroke="#111" stroke-width="0.15" >0</text>
<line x1="303.4" y1="521.95" x2="306.4" y2="521.95" stroke="#111" stroke-width="0.9" />
<text x="302.6" y="524.95" font-size="8.3" text-anchor="end" fill="#111" stroke="#111" stroke-width="0.15" >10</text>
<line x1="303.4" y1="511.5" x2="306.4" y2="511.5" stroke="#111" stroke-width="0.9" />
<text x="302.6" y="514.5" font-size="8.3" text-anchor="end" fill="#111" stroke="#111" stroke-width="0.15" >20</text>
<line x1="303.4" y1="501.05" x2="306.4" y2="501.05" stroke="#111" stroke-width="0.9" />
<text x="302.6" y="504.05" font-size="8.3" text-anchor="end" fill="#111" stroke="#111" stroke-width="0.15" >30</text>
<line x1="303.4" y1="490.6" x2="306.4" y2="490.6" stroke="#111" stroke-width="0.9" />
<text x="302.6" y="493.6" font-size="8.3" text-anchor="end" fill="#111" stroke="#111" stroke-width="0.15" >40</text>
<line x1="303.4" y1="480.15" x2="306.4" y2="480.15" stroke="#111" stroke-width="0.9" />
<text x="302.6" y="483.15" font-size="8.3" text-anchor="end" fill="#111" stroke="#111" stroke-width="0.15" >50</text>
<line x1="303.4" y1="469.7" x2="306.4" y2="469.7" stroke="#111" stroke-width="0.9" />
<text x="302.6" y="472.7" font-size="8.3" text-anchor="end" fill="#111" stroke="#111" stroke-width="0.15" >60</text>
<line x1="323.3" y1="532.4" x2="323.3" y2="535.4" stroke="#111" stroke-width="0.9" />
<line x1="357.5" y1="532.4" x2="357.5" y2="535.4" stroke="#111" stroke-width="0.9" />
<line x1="391.3" y1="532.4" x2="391.3" y2="535.4" stroke="#111" stroke-width="0.9" />
<line x1="425.2" y1="532.4" x2="425.2" y2="535.4" stroke="#111" stroke-width="0.9" />
<text x="273.6" y="499.4" font-size="8.5" text-anchor="middle" fill="#111" transform="rotate(-90 273.6 499.4)" stroke="#111" stroke-width="0.15" >Var. allele</text>
<text x="285.6" y="499.4" font-size="8.5" text-anchor="middle" fill="#111" transform="rotate(-90 285.6 499.4)" stroke="#111" stroke-width="0.15" >frequency [%]</text>
<text x="328.6" y="541.3" font-size="8.3" text-anchor="end" fill="#111" transform="rotate(-42 328.6 541.3)" stroke="#111" stroke-width="0.12" >BM</text>
<text x="364.2" y="541.3" font-size="8.3" text-anchor="end" fill="#111" transform="rotate(-42 364.2 541.3)" stroke="#111" stroke-width="0.12" >hCD45+</text>
<text x="400" y="541.3" font-size="8.3" text-anchor="end" fill="#111" transform="rotate(-42 400 541.3)" stroke="#111" stroke-width="0.12" >hCD19+</text>
<text x="432.2" y="541.3" font-size="8.3" text-anchor="end" fill="#111" transform="rotate(-42 432.2 541.3)" stroke="#111" stroke-width="0.12" >MSC</text>
<line x1="312.5" y1="565.4" x2="336" y2="565.4" stroke="#222" stroke-width="1.1" />
<line x1="345.6" y1="565.4" x2="386.6" y2="565.4" stroke="#222" stroke-width="1.1" />
<text x="323.3" y="576.2" font-size="7.4" text-anchor="middle" fill="#111" stroke="#111" stroke-width="0.12" >Primary</text>
<text x="323.3" y="585.6" font-size="7.4" text-anchor="middle" fill="#111" stroke="#111" stroke-width="0.12" >Sample</text>
<text x="366.4" y="576.2" font-size="7.6" text-anchor="middle" fill="#111" stroke="#111" stroke-width="0.12" >NSG #10</text>
<rect x="414.4" y="478.6" width="6.9" height="4" fill="#6aade4" />
<text x="424.4" y="483.4" font-size="7.7" text-anchor="start" fill="#111" stroke="#111" stroke-width="0.12" >TET2 I274fs</text>
<rect x="414.4" y="490.05" width="6.9" height="4" fill="#1f3f7a" />
<text x="424.4" y="494.85" font-size="7.7" text-anchor="start" fill="#111" stroke="#111" stroke-width="0.12" >U2AF1 Q157P</text>
<rect x="414.4" y="501.5" width="6.9" height="4" fill="#6ab23c" />
<text x="424.4" y="506.3" font-size="7.7" text-anchor="start" fill="#111" stroke="#111" stroke-width="0.12" >del(RUNX1) (FISH)</text>
<text transform="translate(6.9 612.7) scale(0.9 1)" font-size="12.3" font-weight="bold" fill="#000" stroke="#000" stroke-width="0.35">E</text>
<path d="M62.7 662.7L62.7 617.7A45 45 0 0 1 98.28 690.24Z" fill="#6aaa3a" stroke="#fff" stroke-width="1.3" stroke-linejoin="round"/>
<path d="M62.7 662.7L98.28 690.24A45 45 0 0 1 33.39 696.84Z" fill="#5e2568" stroke="#fff" stroke-width="1.3" stroke-linejoin="round"/>
<path d="M62.7 662.7L33.39 696.84A45 45 0 0 1 18.22 655.89Z" fill="#6aabe0" stroke="#fff" stroke-width="1.3" stroke-linejoin="round"/>
<path d="M62.7 662.7L18.22 655.89A45 45 0 0 1 62.7 617.7Z" fill="#b00c2e" stroke="#fff" stroke-width="1.3" stroke-linejoin="round"/>
<text x="84.6" y="653.3" font-size="9.6" text-anchor="middle" fill="#0c200a" font-weight="bold" >11</text>
<text x="63.5" y="692.8" font-size="9.6" text-anchor="middle" fill="#fbeefa" font-weight="bold" >8</text>
<text x="36" y="676.3" font-size="9.6" text-anchor="middle" fill="#0a1a38" font-weight="bold" >5</text>
<text x="42" y="646" font-size="9.6" text-anchor="middle" fill="#4a0814" font-weight="bold" >7</text>
<rect x="127.8" y="628.9" width="4.6" height="4.6" fill="#6aaa3a" />
<text x="135.4" y="633.9" font-size="7.7" text-anchor="start" fill="#111" stroke="#111" stroke-width="0.12" >non-mutated</text>
<rect x="127.8" y="640.1" width="4.6" height="4.6" fill="#4a2468" />
<text x="135.4" y="645.1" font-size="7.7" text-anchor="start" fill="#111" stroke="#111" stroke-width="0.12" >mutated B-cells</text>
<rect x="127.8" y="651.3" width="4.6" height="4.6" fill="#6aabe0" />
<text x="135.4" y="656.3" font-size="7.7" text-anchor="start" fill="#111" stroke="#111" stroke-width="0.12" >mutated T-cells</text>
<rect x="127.8" y="662.5" width="4.6" height="4.6" fill="#b00c2e" />
<text x="135.4" y="667.5" font-size="7.7" text-anchor="start" fill="#111" stroke="#111" stroke-width="0.12" >B- &amp; T-cells mutated</text>
</g>
<g fill="#151515"><rect x="0" y="0" width="520" height="1"/><rect x="0" y="0" width="1.4" height="714"/><rect x="518.85" y="0" width="1.15" height="714"/><rect x="0" y="712.85" width="520" height="1.15"/></g>
</svg>
</body>
</html>
